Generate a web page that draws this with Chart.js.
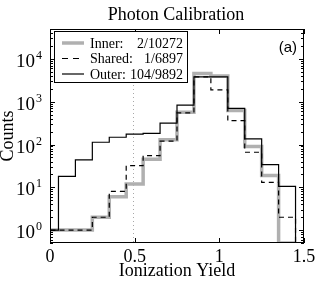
<!DOCTYPE html>
<html>
<head>
<meta charset="utf-8">
<script src="https://cdn.jsdelivr.net/npm/chart.js@4"></script>
<style>
  html, body { margin: 0; padding: 0; background: #fff; }
</style>
</head>
<body>
<canvas id="grafico" width="319" height="281"></canvas>
<script>
// histograma: centros dos bins (largura 0.1) e contagens
const binCenters = [0, 0.1, 0.2, 0.3, 0.4, 0.5, 0.6, 0.7, 0.8, 0.9, 1.0, 1.1, 1.2, 1.3, 1.4];
const binWidth = 0.1;
const innerCounts  = [1, 1, 1, 2, 6, 12, 45, 130, 565, 4550, 4000, 620, 90, 19, 0];
const sharedCounts = [1, 1, 1, 2, 8, 32, 55, 120, 550, 3800, 1900, 360, 66, 13, 2];
const outerCounts  = [1, 18, 44, 113, 148, 175, 182, 315, 835, 3800, 3800, 700, 136, 34, 10.5];
const seriesNames = ['Inner:', 'Shared:', 'Outer:'];
const seriesFractions = ['2/10272', '1/6897', '104/9892'];
const xTicks = [0, 0.5, 1, 1.5];
const xTickLabels = ['0', '0.5', '1', '1.5'];
const yExponents = [0, 1, 2, 3, 4];
const yMin = 0.5, yMax = 50000;
const xMin = 0, xMax = 1.5;
const cutYield = 0.49;

const serif = '"Liberation Serif", "Times New Roman", serif';

// pontos em degrau (borda esquerda de cada bin), zero vai pro piso do eixo
function degraus(counts) {
    const pts = counts.map((c, i) => ({ x: binCenters[i] - binWidth / 2, y: c > 0 ? c : yMin }));
    pts.push({ x: binCenters[binCenters.length - 1] + binWidth / 2, y: yMin });
    return pts;
}

const moldura = {
    id: 'moldura',
    beforeDatasetsDraw(chart) {
        const { ctx, chartArea: a, scales: { x } } = chart;
        const xc = Math.round(x.getPixelForValue(cutYield)) + 0.5;
        ctx.save();
        ctx.strokeStyle = '#a8a8a8';
        ctx.lineWidth = 1;
        ctx.setLineDash([1, 3]);
        ctx.beginPath();
        ctx.moveTo(xc, a.top);
        ctx.lineTo(xc, a.bottom);
        ctx.stroke();
        ctx.restore();
    },
    afterDraw(chart) {
        const { ctx, chartArea: a, scales: { x, y } } = chart;
        ctx.save();
        ctx.strokeStyle = '#000';
        ctx.fillStyle = '#000';
        ctx.lineWidth = 1;
        ctx.strokeRect(a.left + 0.5, a.top + 0.5, a.right - a.left - 1, a.bottom - a.top - 1);

        // ticks x
        ctx.beginPath();
        xTicks.forEach(t => {
            const px = Math.round(x.getPixelForValue(t)) + 0.5;
            ctx.moveTo(px, a.bottom); ctx.lineTo(px, a.bottom - 5);
            ctx.moveTo(px, a.top); ctx.lineTo(px, a.top + 5);
        });
        // ticks y (maiores e menores)
        for (let e = -1; e <= 4; e++) {
            for (let m = 1; m <= 9; m++) {
                const v = m * Math.pow(10, e);
                if (v < yMin || v > yMax) continue;
                const py = Math.round(y.getPixelForValue(v)) + 0.5;
                const len = m === 1 ? 5 : 3;
                ctx.moveTo(a.left, py); ctx.lineTo(a.left + len, py);
                ctx.moveTo(a.right, py); ctx.lineTo(a.right - len, py);
            }
        }
        ctx.stroke();

        // rótulos x
        ctx.font = '18px ' + serif;
        ctx.textAlign = 'center';
        ctx.textBaseline = 'middle';
        xTicks.forEach((t, i) => ctx.fillText(xTickLabels[i], x.getPixelForValue(t), a.bottom + 14));

        // rótulos y 10^n
        ctx.textBaseline = 'alphabetic';
        yExponents.forEach(e => {
            const py = y.getPixelForValue(Math.pow(10, e));
            ctx.font = '19px ' + serif;
            ctx.textAlign = 'right';
            ctx.fillText('10', 35, py + 8);
            ctx.font = '12px ' + serif;
            ctx.textAlign = 'left';
            ctx.fillText(String(e), 36, py);
        });

        // títulos
        ctx.font = '18px ' + serif;
        ctx.textAlign = 'center';
        ctx.textBaseline = 'middle';
        ctx.fillText('Photon Calibration', 176, 15);
        ctx.fillText('Ionization Yield', (a.left + a.right) / 2, 271);
        ctx.save();
        ctx.translate(8, (a.top + a.bottom) / 2);
        ctx.rotate(-Math.PI / 2);
        ctx.fillText('Counts', 0, 0);
        ctx.restore();

        ctx.font = '15px "Liberation Sans", Arial, sans-serif';
        ctx.textAlign = 'right';
        ctx.fillText('(a)', a.right - 7, 48);

        // legenda
        const lx = 54, ly = 31, lw = 133, lh = 51;
        ctx.fillStyle = '#fff';
        ctx.fillRect(lx, ly, lw, lh);
        ctx.strokeRect(lx + 0.5, ly + 0.5, lw, lh);
        chart.data.datasets.forEach((ds, i) => {
            const ry = ly + 12 + i * 15.5;
            ctx.strokeStyle = ds.borderColor;
            ctx.lineWidth = ds.borderWidth;
            ctx.setLineDash(ds.borderDash ? [6, 5] : []);
            ctx.beginPath();
            ctx.moveTo(lx + 8, ry); ctx.lineTo(lx + 30, ry);
            ctx.stroke();
            ctx.setLineDash([]);
            ctx.fillStyle = '#000';
            ctx.font = '14px ' + serif;
            ctx.textBaseline = 'middle';
            ctx.textAlign = 'left';
            ctx.fillText(seriesNames[i], lx + 36, ry + 1);
            ctx.textAlign = 'right';
            ctx.fillText(seriesFractions[i], lx + lw - 4, ry + 1);
        });
        ctx.restore();
    }
};

function criarGrafico() {
    const ctx = document.getElementById('grafico').getContext('2d');
    const linha = { stepped: 'before', pointRadius: 0, fill: false, borderJoinStyle: 'miter', borderCapStyle: 'butt' };

    new Chart(ctx, {
        type: 'line',
        data: {
            datasets: [
                Object.assign({ label: 'Inner', data: degraus(innerCounts), borderColor: '#b0b0b0', borderWidth: 3.5, order: 3 }, linha),
                Object.assign({ label: 'Shared', data: degraus(sharedCounts), borderColor: '#000', borderWidth: 1.2, borderDash: [5, 4], order: 2 }, linha),
                Object.assign({ label: 'Outer', data: degraus(outerCounts), borderColor: '#000', borderWidth: 1.2, order: 1 }, linha)
            ]
        },
        options: {
            responsive: false,
            animation: false,
            layout: { padding: { top: 29, right: 15, left: 0, bottom: 0 } },
            plugins: {
                legend: { display: false },
                tooltip: { enabled: false }
            },
            scales: {
                x: {
                    type: 'linear', min: xMin, max: xMax,
                    grid: { display: false }, border: { display: false }, ticks: { display: false },
                    afterFit: s => { s.height = 38; }
                },
                y: {
                    type: 'logarithmic', min: yMin, max: yMax,
                    grid: { display: false }, border: { display: false }, ticks: { display: false },
                    afterFit: s => { s.width = 50; }
                }
            }
        },
        plugins: [moldura]
    });
}

window.addEventListener('load', criarGrafico);
</script>
</body>
</html>
